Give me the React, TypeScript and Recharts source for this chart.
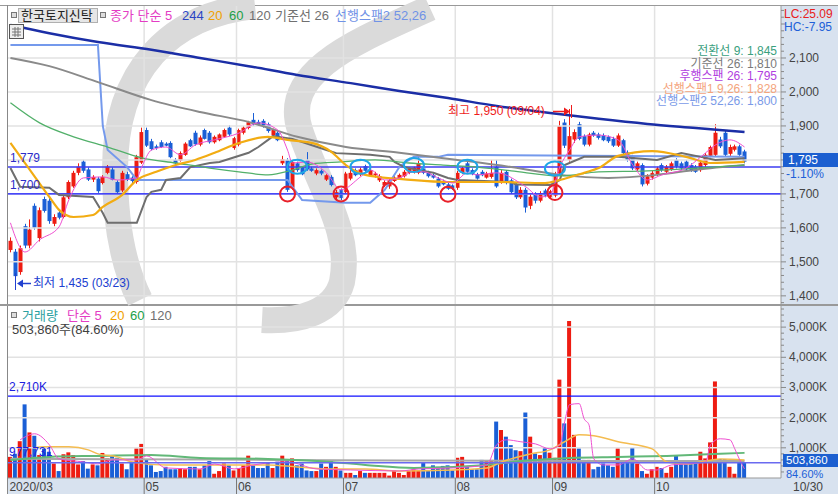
import React from "react";
import { Bar, Cell, ComposedChart, Line, ReferenceDot, ReferenceLine, XAxis, YAxis } from "recharts";

const dates = [
  "03/20", "03/23", "03/24", "03/25", "03/26", "03/27", "03/30", "03/31",
  "04/01", "04/02", "04/03", "04/06", "04/07", "04/08", "04/09", "04/10", "04/13", "04/14", "04/16", "04/17",
  "04/20", "04/21", "04/22", "04/23", "04/24", "04/27", "04/28", "04/29",
  "05/04", "05/06", "05/07", "05/08", "05/11", "05/12", "05/13", "05/14", "05/15", "05/18", "05/19", "05/20",
  "05/21", "05/22", "05/25", "05/26", "05/27", "05/28", "05/29",
  "06/01", "06/02", "06/03", "06/04", "06/05", "06/08", "06/09", "06/10", "06/11", "06/12", "06/15", "06/16",
  "06/17", "06/18", "06/19", "06/22", "06/23", "06/24", "06/25", "06/26", "06/29", "06/30",
  "07/01", "07/02", "07/03", "07/06", "07/07", "07/08", "07/09", "07/10", "07/13", "07/14", "07/15", "07/16",
  "07/17", "07/20", "07/21", "07/22", "07/23", "07/24", "07/27", "07/28", "07/29", "07/30", "07/31",
  "08/03", "08/04", "08/05", "08/06", "08/07", "08/10", "08/11", "08/12", "08/13", "08/14", "08/18", "08/19",
  "08/20", "08/21", "08/24", "08/25", "08/26", "08/27", "08/28", "08/31",
  "09/01", "09/02", "09/03", "09/04", "09/07", "09/08", "09/09", "09/10", "09/11", "09/14", "09/15", "09/16",
  "09/17", "09/18", "09/21", "09/22", "09/23", "09/24", "09/25", "09/28", "09/29",
  "10/05", "10/06", "10/07", "10/08", "10/12", "10/13", "10/14", "10/15", "10/16", "10/19", "10/20", "10/21",
  "10/22", "10/23", "10/26", "10/27", "10/28", "10/29", "10/30",
];

const opens = [
  1535, 1530, 1470, 1605, 1548, 1665, 1570, 1685, 1680, 1612, 1645, 1632, 1690, 1722, 1762, 1795, 1772, 1742, 1745, 1732,
  1762, 1772, 1735, 1710, 1758, 1748, 1735, 1792, 1888, 1855, 1840, 1852, 1848, 1850, 1800, 1798, 1815, 1858, 1880, 1845,
  1888, 1880, 1852, 1858, 1868, 1895, 1835, 1845, 1880, 1894, 1918, 1912, 1915, 1905, 1872, 1880, 1790, 1800, 1718, 1790,
  1778, 1800, 1775, 1760, 1768, 1742, 1750, 1690, 1712, 1705, 1745, 1770, 1758, 1782, 1755, 1755, 1740, 1725, 1722, 1738,
  1745, 1752, 1762, 1765, 1762, 1775, 1762, 1755, 1745, 1738, 1728, 1725, 1718, 1762, 1790, 1770, 1758, 1765, 1748, 1750,
  1780, 1735, 1765, 1740, 1730, 1690, 1712, 1665, 1700, 1680, 1710, 1690, 1695, 1760, 1910, 1800, 1860, 1905, 1870, 1845,
  1880, 1875, 1872, 1868, 1862, 1842, 1858, 1822, 1810, 1772, 1785, 1730, 1748, 1758, 1785, 1765, 1772, 1800, 1790, 1795,
  1785, 1780, 1770, 1785, 1812, 1815, 1860, 1880, 1818, 1830, 1840, 1825,
];
const highs = [
  1572, 1538, 1548, 1612, 1625, 1672, 1660, 1692, 1690, 1640, 1650, 1695, 1740, 1768, 1790, 1800, 1778, 1755, 1750, 1755,
  1785, 1778, 1740, 1768, 1765, 1752, 1815, 1895, 1895, 1862, 1845, 1858, 1852, 1855, 1805, 1825, 1852, 1862, 1886, 1872,
  1892, 1885, 1872, 1878, 1892, 1902, 1868, 1892, 1900, 1915, 1938, 1918, 1920, 1910, 1892, 1884, 1812, 1805, 1798, 1795,
  1782, 1823, 1780, 1775, 1772, 1758, 1755, 1712, 1716, 1765, 1770, 1775, 1778, 1786, 1775, 1765, 1758, 1740, 1745, 1752,
  1760, 1770, 1778, 1780, 1812, 1780, 1768, 1760, 1750, 1742, 1732, 1728, 1768, 1780, 1795, 1775, 1762, 1770, 1765, 1800,
  1800, 1770, 1770, 1745, 1735, 1720, 1718, 1700, 1705, 1708, 1715, 1712, 1765, 1915, 1920, 1950, 1890, 1912, 1875, 1880,
  1885, 1880, 1878, 1872, 1868, 1878, 1862, 1828, 1815, 1795, 1790, 1758, 1768, 1780, 1790, 1785, 1795, 1805, 1795, 1800,
  1790, 1785, 1798, 1820, 1842, 1905, 1868, 1885, 1845, 1845, 1845, 1830,
];
const lows = [
  1528, 1435, 1462, 1540, 1540, 1595, 1560, 1645, 1612, 1605, 1625, 1628, 1685, 1718, 1755, 1762, 1738, 1735, 1703, 1728,
  1758, 1740, 1700, 1705, 1738, 1730, 1730, 1788, 1838, 1828, 1830, 1835, 1840, 1805, 1785, 1795, 1812, 1838, 1842, 1840,
  1860, 1848, 1848, 1855, 1865, 1870, 1830, 1840, 1875, 1890, 1900, 1900, 1895, 1880, 1868, 1855, 1785, 1706, 1712, 1765,
  1755, 1768, 1765, 1755, 1755, 1738, 1722, 1680, 1682, 1700, 1740, 1752, 1752, 1765, 1750, 1748, 1735, 1720, 1715, 1735,
  1742, 1748, 1758, 1760, 1758, 1758, 1748, 1745, 1718, 1725, 1712, 1712, 1712, 1758, 1762, 1755, 1742, 1752, 1745, 1745,
  1718, 1730, 1728, 1700, 1685, 1685, 1645, 1655, 1672, 1675, 1690, 1688, 1690, 1755, 1835, 1795, 1850, 1858, 1840, 1840,
  1868, 1860, 1855, 1850, 1838, 1838, 1815, 1795, 1770, 1768, 1722, 1725, 1742, 1752, 1765, 1760, 1768, 1775, 1770, 1770,
  1765, 1762, 1765, 1780, 1808, 1810, 1835, 1810, 1812, 1825, 1812, 1790,
];
const closes = [
  1562, 1458, 1540, 1548, 1595, 1600, 1652, 1650, 1620, 1632, 1630, 1690, 1735, 1762, 1780, 1768, 1742, 1750, 1708, 1750,
  1780, 1742, 1705, 1762, 1742, 1738, 1808, 1882, 1842, 1832, 1835, 1838, 1842, 1808, 1790, 1820, 1848, 1840, 1846, 1866,
  1862, 1852, 1868, 1875, 1888, 1875, 1864, 1888, 1895, 1911, 1905, 1904, 1900, 1885, 1888, 1858, 1802, 1712, 1794, 1770,
  1758, 1772, 1768, 1770, 1760, 1755, 1726, 1705, 1688, 1760, 1762, 1755, 1772, 1768, 1770, 1760, 1752, 1735, 1740, 1748,
  1756, 1765, 1775, 1778, 1790, 1762, 1752, 1748, 1722, 1728, 1715, 1716, 1762, 1776, 1765, 1758, 1745, 1755, 1760, 1762,
  1722, 1762, 1732, 1705, 1690, 1712, 1660, 1692, 1680, 1702, 1695, 1708, 1755, 1900, 1842, 1870, 1882, 1862, 1845, 1875,
  1872, 1865, 1858, 1855, 1842, 1872, 1820, 1800, 1775, 1790, 1728, 1752, 1762, 1775, 1770, 1780, 1790, 1780, 1775, 1772,
  1768, 1765, 1792, 1815, 1838, 1880, 1840, 1815, 1838, 1840, 1815, 1795,
];

// volume in thousand shares
const volumes = [
  700, 800, 1220, 2440, 1510, 1400, 760, 980, 870, 480, 230, 790, 850, 760, 450, 560, 310, 450, 420, 830,
  650, 760, 670, 480, 290, 540, 980, 1130, 600, 420, 200, 230, 370, 290, 290, 330, 290, 370, 370, 290,
  420, 560, 140, 230, 480, 420, 250, 330, 420, 740, 420, 330, 330, 500, 330, 540, 740, 600, 650, 420,
  480, 250, 230, 230, 480, 370, 560, 370, 250, 170, 170, 100, 230, 170, 170, 170, 170, 170, 80, 250,
  170, 100, 230, 290, 250, 530, 250, 420, 370, 400, 420, 250, 670, 700, 370, 290, 290, 600, 560, 600,
  1870, 1590, 1370, 1090, 920, 890, 2170, 1370, 810, 760, 1000, 840, 670, 3260, 1810, 5200, 1430, 980, 600, 600,
  290, 370, 480, 420, 370, 980, 560, 540, 1000, 480, 230, 140, 290, 370, 330, 170, 370, 760, 480, 480,
  540, 540, 870, 650, 1180, 3200, 630, 630, 370, 140, 560, 504,
];

// indicator lines: [day index, value]
const ma5Pts = [
  [0, 1615], [3, 1529], [6, 1565], [10, 1603], [12, 1682], [15, 1747], [19, 1750], [22, 1741], [26, 1747], [27, 1779],
  [29, 1829], [32, 1838], [35, 1815], [38, 1844], [42, 1859], [47, 1879], [51, 1909], [55, 1888], [57, 1829], [58, 1791],
  [61, 1794], [65, 1762], [68, 1712], [72, 1750], [74, 1771], [77, 1741], [80, 1747], [83, 1765], [85, 1765], [88, 1747],
  [91, 1732], [94, 1762], [96, 1756], [100, 1762], [106, 1721], [109, 1691], [111, 1697], [113, 1779], [115, 1829],
  [117, 1868], [121, 1873], [125, 1859], [128, 1785], [131, 1741], [134, 1756], [139, 1776], [143, 1821], [145, 1844],
  [148, 1859], [151, 1838],
];
const ma20Pts = [
  [0, 1850], [4, 1771], [8, 1691], [10, 1653], [13, 1632], [17, 1638], [19, 1662], [23, 1697], [26, 1741], [30, 1765],
  [34, 1785], [38, 1800], [42, 1821], [47, 1850], [53, 1868], [57, 1859], [62, 1850], [66, 1824], [69, 1785], [73, 1756],
  [80, 1744], [90, 1735], [100, 1735], [110, 1732], [113, 1741], [118, 1762], [121, 1776], [125, 1812], [132, 1826],
  [139, 1809], [144, 1791], [151, 1794],
];
const ma60Pts = [
  [0, 1968], [6, 1909], [13, 1868], [20, 1838], [27, 1806], [34, 1791], [41, 1776], [47, 1765], [53, 1756], [58, 1770],
  [62, 1788], [68, 1794], [75, 1800], [82, 1791], [89, 1785], [96, 1779], [103, 1768], [113, 1753], [121, 1765],
  [131, 1768], [141, 1776], [151, 1785],
];
const ma120Pts = [
  [0, 2100], [8, 2076], [18, 2029], [29, 1976], [39, 1941], [49, 1912], [59, 1868], [69, 1838], [80, 1821], [92, 1800],
  [103, 1779], [113, 1756], [123, 1747], [133, 1756], [141, 1771], [151, 1785],
];
const ma244Pts = [
  [0, 2197], [8, 2173], [18, 2147], [29, 2124], [39, 2100], [49, 2076], [59, 2050], [70, 2026], [80, 2003], [90, 1982],
  [100, 1959], [111, 1938], [121, 1921], [131, 1906], [141, 1894], [151, 1882],
];
const kijunPts = [
  [0, 1776], [2, 1721], [8, 1718], [10, 1697], [17, 1691], [19, 1644], [20, 1615], [26, 1615], [28, 1691], [29, 1706],
  [31, 1712], [32, 1741], [35, 1747], [37, 1779], [41, 1791], [43, 1794], [49, 1821], [51, 1838], [53, 1859], [54, 1870],
  [58, 1862], [65, 1829], [67, 1820], [74, 1815], [78, 1809], [79, 1794], [81, 1779], [84, 1770], [87, 1762], [90, 1747],
  [92, 1741], [103, 1735], [104, 1728], [111, 1726], [113, 1741], [114, 1785], [118, 1809], [125, 1809], [133, 1800],
  [138, 1820], [142, 1809], [145, 1800], [151, 1805],
];
const span2Pts = [
  [0, 2138], [18, 2138], [19, 1900], [20, 1829], [24, 1779], [26, 1741], [57, 1741], [58, 1721], [60, 1682], [69, 1674],
  [74, 1674], [77, 1712], [80, 1779], [81, 1791], [83, 1809], [88, 1809], [90, 1815], [151, 1809],
];

const vma5Pts = [
  [2, 1265], [5, 1465], [8, 1100], [10, 633], [15, 533], [18, 466], [21, 600], [26, 600], [28, 733], [32, 333], [39, 300],
  [42, 466], [46, 300], [50, 433], [57, 533], [63, 300], [70, 266], [80, 233], [84, 300], [91, 333], [98, 433], [100, 1100],
  [102, 1265], [105, 1200], [108, 1130], [111, 966], [113, 1100], [114, 1865], [115, 2430], [117, 2465], [118, 1965],
  [119, 1765], [120, 633], [122, 433], [125, 433], [128, 633], [131, 266], [133, 266], [136, 433], [139, 466], [143, 533],
  [144, 1100], [146, 1300], [148, 1265], [149, 966], [150, 600], [151, 300],
];
const vma20Pts = [
  [5, 1000], [7, 1032], [12, 1032], [16, 933], [18, 800], [22, 700], [25, 533], [32, 433], [39, 433], [46, 433], [53, 433],
  [59, 366], [66, 300], [73, 300], [80, 233], [91, 266], [98, 333], [101, 533], [107, 800], [111, 933], [114, 1200],
  [117, 1430], [120, 1400], [125, 1200], [132, 966], [135, 533], [139, 466], [146, 633], [151, 600],
];
const vma60Pts = [
  [0, 600], [8, 700], [18, 733], [29, 766], [39, 666], [53, 633], [63, 566], [73, 433], [83, 333], [98, 433], [105, 566],
  [115, 666], [125, 700], [135, 733], [146, 800], [151, 833],
];
const vma120Pts = [[0, 640], [40, 610], [80, 580], [120, 565], [151, 560]];

const monthTicks = ["03/20", "05/04", "06/01", "07/01", "08/03", "09/01", "10/05"];
const monthLabels = ["2020/03", "05", "06", "07", "08", "09", "10"];
const priceLabels = [1400, 1500, 1600, 1700, 1800, 1900, 2000, 2100];
const volumeLabels = [1000, 2000, 3000, 4000, 5000];

const redMarks = [[57, 1700], [68, 1700], [78, 1710], [90, 1699], [112, 1704]];
const blueMarks = [[59, 1780], [72, 1780], [83, 1785], [94, 1780], [112, 1775]];

const RED = "#ee1c12";
const BLUE = "#1a5fd6";
const FONT = '"Liberation Sans", "Noto Sans CJK KR", sans-serif';
const PAD = 7;

function spread(pts: number[][]) {
  const m = new Map<number, number>();
  pts.forEach(([i, v]) => m.set(i, v));
  return m;
}
const series = {
  ma5: spread(ma5Pts), ma20: spread(ma20Pts), ma60: spread(ma60Pts), ma120: spread(ma120Pts),
  ma244: spread(ma244Pts), kijun: spread(kijunPts), span2: spread(span2Pts),
  vma5: spread(vma5Pts), vma20: spread(vma20Pts), vma60: spread(vma60Pts), vma120: spread(vma120Pts),
};

const rows: any[] = dates.map((d, i) => {
  const r: any = { d, o: opens[i], h: highs[i], l: lows[i], c: closes[i], hl: [lows[i], highs[i]], v: volumes[i] };
  Object.entries(series).forEach(([k, m]) => { r[k] = m.has(i) ? m.get(i) : null; });
  return r;
});
for (let k = 0; k < PAD; k++) rows.push({ d: `pad${k}` });

const priceTicks: number[] = [];
for (let p = 1380; p <= 2240; p += 20) priceTicks.push(p);
const volTicks: number[] = [];
for (let v = 200; v <= 5600; v += 200) volTicks.push(v);

function Candle(props: any) {
  const { x, y, width, height, payload } = props;
  if (!payload || payload.o == null) return null;
  const top = Math.min(y, y + height);
  const span = Math.abs(height);
  const k = payload.h === payload.l ? 0 : span / (payload.h - payload.l);
  const yo = top + (payload.h - payload.o) * k;
  const yc = top + (payload.h - payload.c) * k;
  const col = payload.c >= payload.o ? RED : BLUE;
  const cx = Math.round(x + width / 2) + 0.5;
  return (
    <g>
      <line x1={cx} x2={cx} y1={top} y2={top + span} stroke={col} strokeWidth={1} />
      <rect x={cx - 2} y={Math.min(yo, yc)} width={4} height={Math.max(1, Math.abs(yo - yc))} fill={col} />
    </g>
  );
}

function PriceTick(props: any) {
  const { x, y, payload } = props;
  const major = payload.value % 100 === 0;
  return (
    <g>
      <line x1={x} x2={x + (major ? 5 : 3)} y1={y} y2={y} stroke="#888" />
      {major && priceLabels.includes(payload.value) && (
        <text x={x + 8} y={y + 4} fontSize={12} fill="#444" fontFamily={FONT}>
          {payload.value.toLocaleString("en-US")}
        </text>
      )}
    </g>
  );
}

function VolTick(props: any) {
  const { x, y, payload } = props;
  const major = payload.value % 1000 === 0;
  return (
    <g>
      <line x1={x} x2={x + (major ? 5 : 3)} y1={y} y2={y} stroke="#888" />
      {major && volumeLabels.includes(payload.value) && (
        <text x={x + 8} y={y + 4} fontSize={12} fill="#444" fontFamily={FONT}>
          {payload.value.toLocaleString("en-US")}K
        </text>
      )}
    </g>
  );
}

function DateTick(props: any) {
  const { x, y, payload } = props;
  const idx = monthTicks.indexOf(payload.value);
  return (
    <g>
      {idx > 0 && <line x1={x - 2.4} x2={x - 2.4} y1={y} y2={y + 16} stroke="#777" />}
      <text x={x - 1} y={y + 13} fontSize={12} fill="#444" fontFamily={FONT}>
        {monthLabels[idx]}
      </text>
    </g>
  );
}

const Txt = ({ x, y, color, size = 13, children, right }: any) => (
  <div
    style={{
      position: "absolute", top: y, lineHeight: 1, fontSize: size, color, whiteSpace: "nowrap", fontFamily: FONT,
      ...(right != null ? { right, textAlign: "right" } : { left: x }),
    }}
  >
    {children}
  </div>
);

const Sq = ({ x, y }: any) => (
  <div style={{ position: "absolute", left: x, top: y, width: 4, height: 4, border: "1px solid #777", background: "#ddd" }} />
);

function line(key: string, color: string, w: number, type: any = "monotone") {
  return (
    <Line key={key} dataKey={key} stroke={color} strokeWidth={w} dot={false} activeDot={false} connectNulls type={type}
      isAnimationActive={false} />
  );
}

export default function App() {
  return (
    <div style={{ position: "absolute", left: 0, top: 0, width: 838, height: 494, background: "#fff", overflow: "hidden", fontFamily: FONT }}>
      <div style={{ position: "absolute", left: 781, top: 5, width: 57, height: 489, background: "#d8e2ef" }} />
      <div style={{ position: "absolute", left: 7, top: 478, width: 774, height: 16, background: "#d8e2ef" }} />
      <div style={{ position: "absolute", left: 0, top: 5, width: 838, height: 1, background: "#999" }} />
      <div style={{ position: "absolute", left: 7, top: 5, width: 1, height: 489, background: "#888" }} />
      <div style={{ position: "absolute", left: 0, top: 304, width: 838, height: 2, background: "#999" }} />

      <svg width={781} height={478} style={{ position: "absolute", left: 0, top: 0 }}>
        <g fill="none" stroke="#dadada" strokeWidth={26}>
          <path d="M 255 6 C 170 15 115 70 115 170 C 115 230 125 270 140 300" />
          <path d="M 430 8 C 360 40 280 70 300 130 C 320 190 352 232 342 282 C 334 312 300 322 262 320" />
        </g>
      </svg>

      <div style={{ position: "absolute", left: 0, top: 0 }}>
        <ComposedChart width={838} height={304} data={rows} margin={{ top: 6, right: 0, bottom: 0, left: 8 }}>
          <XAxis dataKey="d" hide />
          <YAxis orientation="right" width={57} domain={[1376, 2253]} ticks={priceTicks} interval={0} allowDataOverflow
            tick={<PriceTick />} tickLine={false} tickSize={0} tickMargin={0} axisLine={{ stroke: "#999" }} />
          {priceLabels.map((p) => (
            <ReferenceLine key={p} y={p} stroke="#e2e2e2" strokeWidth={1.5} />
          ))}
          {monthTicks.slice(1).map((d) => (
            <ReferenceLine key={d} x={d} position="start" stroke="#e2e2e2" strokeWidth={1.5} />
          ))}
          <ReferenceLine y={1779} stroke="#3c3cf0" strokeWidth={1.5} />
          <ReferenceLine y={1700} stroke="#1010ff" strokeWidth={1.2} />
          <Bar dataKey="hl" barSize={4} shape={<Candle />} isAnimationActive={false} />
          {line("span2", "#7499ec", 2, "linear")}
          {line("ma120", "#8a8a8a", 2)}
          {line("kijun", "#6e6e6e", 2, "linear")}
          {line("ma60", "#52b06a", 1.3)}
          {line("ma20", "#f2ac12", 2.2)}
          {line("ma244", "#1b2ea6", 2.5)}
          {line("ma5", "#ee50d0", 1)}
          {redMarks.map(([i, p]) => (
            <ReferenceDot key={`r${i}`} x={dates[i]} y={p} r={7.5}
              shape={(s: any) => <circle cx={s.cx} cy={s.cy} r={7.5} fill="none" stroke="#e8202a" strokeWidth={2} />} />
          ))}
          {blueMarks.map(([i, p]) => (
            <ReferenceDot key={`b${i}`} x={dates[i]} y={p} r={8}
              shape={(s: any) => <ellipse cx={s.cx} cy={s.cy} rx={10} ry={7} fill="none" stroke="#1ea6e6" strokeWidth={2} />} />
          ))}
        </ComposedChart>
      </div>

      <div style={{ position: "absolute", left: 0, top: 305 }}>
        <ComposedChart width={838} height={189} data={rows} margin={{ top: 1, right: 0, bottom: 0, left: 8 }}>
          <XAxis dataKey="d" height={16} ticks={monthTicks} interval={0} tick={<DateTick />} tickLine={false} tickSize={0}
            tickMargin={0} axisLine={{ stroke: "#999" }} />
          <YAxis orientation="right" width={57} domain={[0, 5700]} ticks={volTicks} interval={0} allowDataOverflow
            tick={<VolTick />} tickLine={false} tickSize={0} tickMargin={0} axisLine={{ stroke: "#999" }} />
          {volumeLabels.map((v) => (
            <ReferenceLine key={v} y={v} stroke="#e2e2e2" strokeWidth={1.5} />
          ))}
          {monthTicks.slice(1).map((d) => (
            <ReferenceLine key={d} x={d} position="start" stroke="#e2e2e2" strokeWidth={1.5} />
          ))}
          <ReferenceLine y={2710} stroke="#1010ff" strokeWidth={1.2} />
          <Bar dataKey="v" barSize={4} isAnimationActive={false}>
            {rows.map((r, i) => (
              <Cell key={i} fill={r.c >= r.o ? RED : BLUE} />
            ))}
          </Bar>
          {line("vma120", "#a8a8a8", 2)}
          {line("vma60", "#62b878", 2)}
          {line("vma20", "#f4bc50", 1.5)}
          {line("vma5", "#ee50d0", 1)}
          <ReferenceLine y={503.86} stroke="#6a6af0" strokeWidth={1.5} />
        </ComposedChart>
      </div>

      <svg width={16} height={16} style={{ position: "absolute", left: 9, top: 24 }}>
        <rect x={0.5} y={0.5} width={14} height={14} fill="#eee" stroke="#555" />
        <path d="M 3 5 H 12 M 3 8 H 12 M 3 11 H 12 M 6 3 V 13 M 9 3 V 13" stroke="#777" />
      </svg>

      <svg width={838} height={300} style={{ position: "absolute", left: 0, top: 0 }}>
        <g stroke="#2040d0" fill="#2040d0">
          <line x1={15.5} x2={15.5} y1={273} y2={290} />
          <line x1={20} x2={31} y1={283.5} y2={283.5} strokeWidth={1.5} />
          <path d="M 17 283.5 L 23 279.5 L 23 287.5 Z" stroke="none" />
        </g>
        <g stroke="#ee1c1c" fill="#ee1c1c">
          <line x1={553} x2={566} y1={111.5} y2={111.5} strokeWidth={1.5} />
          <path d="M 570 111.5 L 564 107.5 L 564 115.5 Z" stroke="none" />
          <line x1={571.5} x2={571.5} y1={105} y2={118} />
        </g>
      </svg>

      <Sq x={11} y={12} />
      <div style={{ position: "absolute", left: 18, top: 8, width: 78, height: 13, background: "#e6e6e6", border: "1px solid #b0b0b0" }} />
      <Txt x={21} y={9} color="#222">한국토지신탁</Txt>
      <Sq x={100} y={12} />
      <Txt x={110} y={9} color="#e43cc4">종가 단순 5</Txt>
      <Txt x={182} y={9} color="#2a44c4">244</Txt>
      <Txt x={208} y={9} color="#f0a000">20</Txt>
      <Txt x={229} y={9} color="#21a047">60</Txt>
      <Txt x={249} y={9} color="#707070">120</Txt>
      <Txt x={275} y={9} color="#707070">기준선 26</Txt>
      <Txt x={335} y={9} color="#7092e6">선행스팬2 52,26</Txt>

      <Txt right={61} y={45} size={12} color="#3aa07e">전환선 9: 1,845</Txt>
      <Txt right={61} y={57.5} size={12} color="#7a7a7a">기준선 26: 1,810</Txt>
      <Txt right={61} y={70} size={12} color="#b040e0">후행스팬 26: 1,795</Txt>
      <Txt right={61} y={82.5} size={12} color="#f4a47c">선행스팬1 9,26: 1,828</Txt>
      <Txt right={61} y={95} size={12} color="#7a9ae8">선행스팬2 52,26: 1,800</Txt>

      <Txt x={10} y={152} color="#2c2cc8" size={12}>1,779</Txt>
      <Txt x={10} y={179} color="#2c2cc8" size={12}>1,700</Txt>
      <Txt x={448} y={105} color="#ee1c1c" size={12}>최고 1,950 (09/04)</Txt>
      <Txt x={33} y={277} color="#2040d0" size={12}>최저 1,435 (03/23)</Txt>

      <Txt x={784} y={8} color="#e82020" size={12}>LC:25.09</Txt>
      <Txt x={784} y={21} color="#2060d8" size={12}>HC:-7.95</Txt>
      <div style={{ position: "absolute", left: 783, top: 153, width: 55, height: 14, background: "#1c5fd0" }} />
      <Txt x={788} y={154} color="#fff" size={12}>1,795</Txt>
      <Txt x={786} y={168} color="#2060d8" size={12}>-1.10%</Txt>

      <Sq x={11} y={312} />
      <Txt x={22} y={309} color="#2aa0a0">거래량</Txt>
      <Txt x={67} y={309} color="#e43cc4">단순 5</Txt>
      <Txt x={110} y={309} color="#f0a000">20</Txt>
      <Txt x={130} y={309} color="#21a047">60</Txt>
      <Txt x={150} y={309} color="#707070">120</Txt>
      <Txt x={12} y={323} color="#404040">503,860주(84.60%)</Txt>
      <Txt x={9} y={381} color="#2020e0" size={12}>2,710K</Txt>
      <Txt x={9} y={446} color="#2020e0" size={12}>977,731</Txt>

      <div style={{ position: "absolute", left: 783, top: 454, width: 55, height: 13, background: "#1c5fd0" }} />
      <Txt x={786} y={455} color="#fff" size={11.5}>503,860</Txt>
      <Txt x={786} y={468.5} color="#2060d8" size={11}>84.60%</Txt>
      <Txt x={793} y={481} color="#444" size={12}>10/30</Txt>
    </div>
  );
}
